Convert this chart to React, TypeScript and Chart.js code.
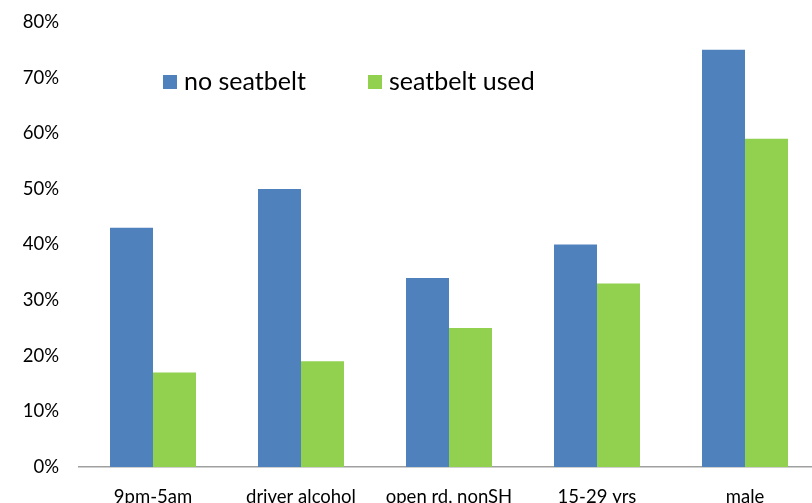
import React, { useEffect, useRef } from "react";
import { Chart, registerables } from "chart.js";

Chart.register(...registerables);

const categories = ["9pm-5am", "driver alcohol", "open rd, nonSH", "15-29 yrs", "male"];
const noSeatbelt = [43, 50, 34, 40, 75];
const seatbeltUsed = [17, 19, 25, 33, 59];
const seriesNames = ["no seatbelt", "seatbelt used"];
const seriesColors = ["#4F81BD", "#92D050"];

const FONT = "Lato, 'Noto Sans', sans-serif";

const legendPlugin = {
  id: "insideLegend",
  afterDraw(chart: any) {
    const ctx = chart.ctx;
    ctx.save();
    const items = [
      { x: 163, label: seriesNames[0], color: seriesColors[0] },
      { x: 368, label: seriesNames[1], color: seriesColors[1] },
    ];
    const y = 82;
    ctx.font = `25px ${FONT}`;
    ctx.textBaseline = "middle";
    ctx.textAlign = "left";
    for (const it of items) {
      ctx.fillStyle = it.color;
      ctx.fillRect(it.x, y - 7, 14, 14);
      ctx.fillStyle = "#000";
      ctx.fillText(it.label, it.x + 21, y);
    }
    ctx.restore();
  },
};

export default function App() {
  const ref = useRef<HTMLCanvasElement>(null);
  useEffect(() => {
    const chart = new Chart(ref.current!, {
      type: "bar",
      data: {
        labels: categories,
        datasets: [
          { label: seriesNames[0], data: noSeatbelt, backgroundColor: seriesColors[0] },
          { label: seriesNames[1], data: seatbeltUsed, backgroundColor: seriesColors[1] },
        ],
      },
      options: {
        responsive: false,
        animation: false,
        devicePixelRatio: 1,
        layout: { padding: { top: 22, right: 11, left: 0, bottom: 0 } },
        datasets: { bar: { barPercentage: 1, categoryPercentage: 0.581 } },
        plugins: { legend: { display: false }, tooltip: { enabled: false } },
        scales: {
          x: {
            grid: { display: false, drawTicks: false },
            border: { display: true, color: "#A0A0A0", width: 1.5 },
            ticks: { color: "#000", font: { family: FONT, size: 18.5 }, padding: 19, maxRotation: 0, autoSkip: false },
            afterFit: (s: any) => { s.height = 36; },
          },
          y: {
            min: 0,
            max: 80,
            grid: { display: false, drawTicks: false },
            border: { display: false },
            ticks: {
              stepSize: 10,
              color: "#000",
              font: { family: FONT, size: 18.5 },
              padding: 20,
              callback: (v: any) => v + "%",
            },
            afterFit: (s: any) => {
              s.width = 79;
              s.paddingTop = 0;
              s.paddingBottom = 0;
            },
          },
        },
      },
      plugins: [legendPlugin],
    });
    return () => chart.destroy();
  }, []);
  return (
    <div style={{ position: "fixed", left: 0, top: 0, width: 812, height: 503, overflow: "hidden", background: "#fff" }}>
      <canvas ref={ref} width={830} height={503} style={{ display: "block", width: 830, height: 503 }} />
    </div>
  );
}
